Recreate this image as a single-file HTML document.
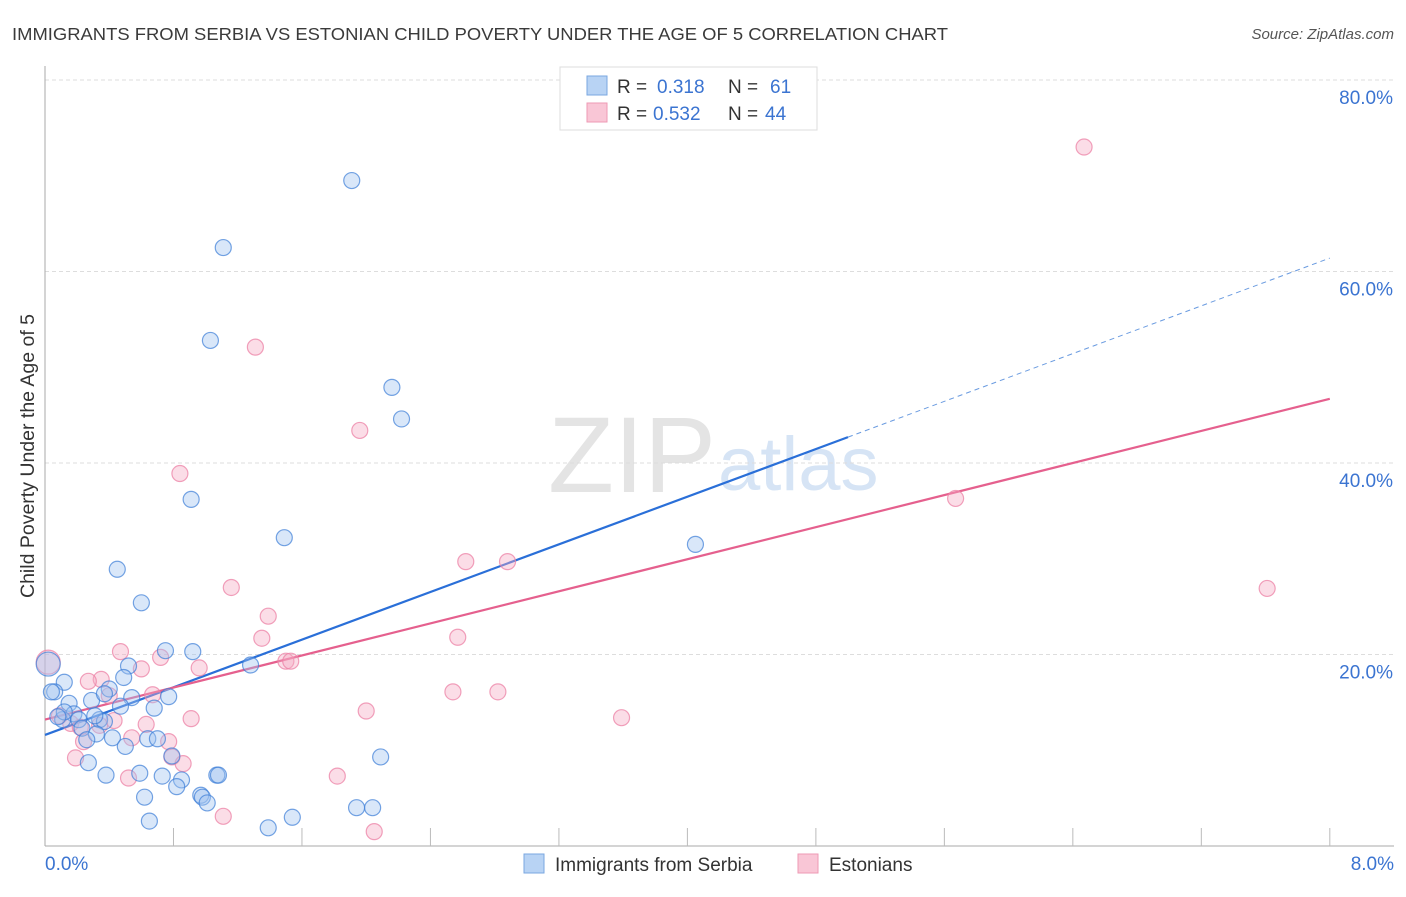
<!DOCTYPE html>
<html><head><meta charset="utf-8"><style>
body{margin:0;background:#fff;font-family:"Liberation Sans",sans-serif}
svg text{font-family:"Liberation Sans",sans-serif}
</style></head><body>
<svg id="chart" width="1406" height="892">
<text x="12" y="40" font-size="17.5" fill="#3a3a3a" textLength="936" lengthAdjust="spacingAndGlyphs">IMMIGRANTS FROM SERBIA VS ESTONIAN CHILD POVERTY UNDER THE AGE OF 5 CORRELATION CHART</text>
<text x="1394" y="39" font-size="15" fill="#555" font-style="italic" text-anchor="end">Source: ZipAtlas.com</text>
<text x="0" y="0" transform="translate(34,456) rotate(-90)" font-size="19.5" fill="#333" text-anchor="middle">Child Poverty Under the Age of 5</text>
<text x="716" y="492" font-size="108" fill="#e4e4e4" font-family="Liberation Serif" text-anchor="end">ZIP</text>
<text x="718" y="490" font-size="76" fill="#d6e4f5">atlas</text>
<g id="grid"></g><g id="axes"></g><g id="lines"></g><g id="pts"></g>
<g>
<rect x="560" y="67" width="257" height="63" fill="#fff" stroke="#ddd"/>
<rect x="587" y="76" width="20" height="19" fill="#b8d3f4" stroke="#7aa7e0"/>
<rect x="587" y="103" width="20" height="19" fill="#f9c6d6" stroke="#ee9ab4"/>
<text x="617" y="93" font-size="19" fill="#333">R = </text><text x="657" y="93" font-size="19" fill="#3b74d1">0.318</text>
<text x="728" y="93" font-size="19" fill="#333">N = </text><text x="770" y="93" font-size="19" fill="#3b74d1">61</text>
<text x="617" y="120" font-size="19" fill="#333">R = </text><text x="653" y="120" font-size="19" fill="#3b74d1">0.532</text>
<text x="728" y="120" font-size="19" fill="#333">N = </text><text x="765" y="120" font-size="19" fill="#3b74d1">44</text>
</g>
<g>
<rect x="524" y="854" width="20" height="19" fill="#b8d3f4" stroke="#7aa7e0"/>
<text x="555" y="871" font-size="19" fill="#333">Immigrants from Serbia</text>
<rect x="798" y="854" width="20" height="19" fill="#f9c6d6" stroke="#ee9ab4"/>
<text x="829" y="871" font-size="19" fill="#333">Estonians</text>
</g>
</svg>
<script>
const blueX=[1.91,1.11,1.03,2.16,2.22,0.91,1.49,4.05,0.45,0.60,0.75,0.92,0.52,1.28,0.49,0.12,0.06,0.40,0.54,0.77,0.29,0.15,0.47,0.68,0.18,0.34,0.21,0.37,0.11,0.23,0.32,0.42,0.26,0.64,0.70,0.50,0.79,2.09,0.27,0.59,0.38,0.73,1.07,1.08,0.85,0.82,0.97,0.62,0.98,1.01,1.94,2.04,0.65,1.54,1.39,0.02,0.04,0.12,0.31,0.08,0.37];
const blueY=[69.5,62.5,52.8,47.9,44.6,36.2,32.2,31.5,28.9,25.4,20.4,20.3,18.8,18.9,17.6,17.1,16.1,16.4,15.5,15.6,15.2,14.9,14.6,14.4,13.8,13.2,13.2,13.0,13.2,12.3,11.7,11.3,11.1,11.2,11.2,10.4,9.4,9.3,8.7,7.6,7.4,7.3,7.4,7.4,6.9,6.2,5.3,5.1,5.1,4.5,4.0,4.0,2.6,3.0,1.9,19.0,16.1,14.0,13.6,13.5,15.9];
const pinkX=[6.47,1.31,1.96,0.84,5.67,2.62,2.88,1.16,7.61,1.39,1.35,2.57,0.47,0.72,1.50,1.53,0.60,0.96,0.02,0.35,0.27,0.67,2.54,2.82,0.40,2.00,0.91,3.59,0.09,0.43,0.16,0.63,0.22,0.54,0.77,0.24,0.79,0.19,0.86,0.52,1.82,1.11,2.05,0.34];
const pinkY=[73.0,52.1,43.4,38.9,36.3,29.7,29.7,27.0,26.9,24.0,21.7,21.8,20.3,19.7,19.3,19.3,18.5,18.6,19.2,17.4,17.2,15.8,16.1,16.1,15.7,14.1,13.3,13.4,13.6,13.1,12.8,12.7,12.4,11.3,10.9,10.9,9.3,9.2,8.6,7.1,7.3,3.1,1.5,12.6];
const blueTrend=[11.6,42.7,61.4];
const pinkTrend=[13.2,46.7];
const yTicks=[20,40,60,80];
const xTickLabels=["0.0%","8.0%"];
const NS="http://www.w3.org/2000/svg";
const sx=v=>45+v*160.6, sy=v=>846-v*9.575;
function mk(tag,attrs,parent){const e=document.createElementNS(NS,tag);for(const k in attrs)e.setAttribute(k,attrs[k]);document.getElementById(parent).appendChild(e);return e;}
yTicks.forEach(t=>{
 const g=mk('line',{x1:45,x2:1394,y1:sy(t),y2:sy(t),stroke:'#ddd','stroke-dasharray':'4,3'},'grid');
 
 
 const l=mk('text',{x:1393,y:sy(t)+24,'font-size':19,fill:'#3b74d1','text-anchor':'end'},'grid');
 l.textContent=t.toFixed(1)+'%';
 
 
});
const ax=mk('line',{x1:45,x2:45,y1:66,y2:846,stroke:'#aaa'},'axes');


const bx=mk('line',{x1:45,x2:1394,y1:846,y2:846,stroke:'#aaa'},'axes');


for(let i=1;i<=10;i++){const t=mk('line',{x1:sx(i*0.8),x2:sx(i*0.8),y1:828,y2:846,stroke:'#bbb'},'axes');
 
 }
[[0,'start',45],[8,'end',1394]].forEach((d,i)=>{const t=mk('text',{x:d[2],y:870,'font-size':19,fill:'#3b74d1','text-anchor':d[1]},'axes');t.textContent=xTickLabels[i];
 
 });
function dots(X,Y,fill,stroke,name){X.forEach((x,i)=>{const big=x<0.03;const c=mk('circle',{cx:sx(x),cy:sy(Y[i]),r:big?12:8,fill:fill,stroke:stroke,'stroke-width':1.2},'pts');
 
 });}
dots(pinkX,pinkY,'rgba(246,170,195,0.4)','rgba(236,130,165,0.75)','point-estonians');
dots(blueX,blueY,'rgba(160,196,240,0.4)','rgba(60,125,215,0.7)','point-serbia');
const b1=mk('line',{x1:sx(0),y1:sy(blueTrend[0]),x2:sx(5),y2:sy(blueTrend[1]),stroke:'#2a6fd8','stroke-width':2.2},'lines');


const b2=mk('line',{x1:sx(5),y1:sy(blueTrend[1]),x2:sx(8),y2:sy(blueTrend[2]),stroke:'#6a9be0','stroke-width':1,'stroke-dasharray':'5,4'},'lines');


const p1=mk('line',{x1:sx(0),y1:sy(pinkTrend[0]),x2:sx(8),y2:sy(pinkTrend[1]),stroke:'#e5608e','stroke-width':2.2},'lines');


</script>
</body></html>
